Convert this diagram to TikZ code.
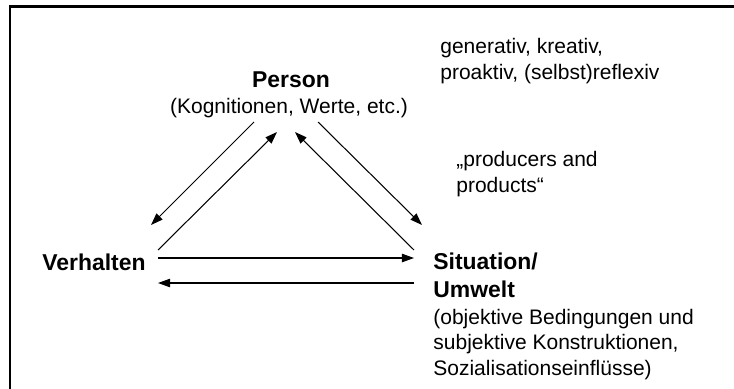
\documentclass[tikz,border=0pt]{standalone}
\usepackage{fontspec}
\setmainfont{Liberation Sans}
\usetikzlibrary{arrows.meta}
\begin{document}
\begin{tikzpicture}[x=0.5236pt,y=-0.5236pt,
  lbl/.style={inner sep=0pt, font=\fontsize{11}{13.1}\selectfont, align=left},
  lblc/.style={inner sep=0pt, font=\fontsize{11}{13.1}\selectfont},
  head/.style={inner sep=0pt, font=\fontsize{12}{14.3}\selectfont\bfseries, align=left},
  arr/.style={line width=0.55pt, -{Triangle[length=6.3pt,width=4.4pt]}},
  frameline/.style={line width=1.05pt, line join=miter}]
\useasboundingbox (0,0) rectangle (734,388);
\coordinate (fb) at (10,390);
\coordinate (fc) at (10,6.5);
\coordinate (fr) at (736,6.5);
\draw[frameline] (fb) -- (fc) -- (fr);

\node[head, anchor=base] (person) at (291,87) {Person};
\node[lblc, anchor=base] (persub) at (289,113) {(Kognitionen, Werte, etc.)};
\node[lbl, anchor=base west] (traits) at (440,79) {generativ, kreativ,\\proaktiv, (selbst)reflexiv};
\node[lbl, anchor=base west] (prod) at (456,192) {„producers and\\products“};
\node[head, anchor=base west] (verh) at (42,270) {Verhalten};
\node[head, anchor=base west] (sit) at (433,297) {Situation/\\Umwelt};
\node[lbl, anchor=base west] (sitsub) at (433,375) {(objektive Bedingungen und\\subjektive Konstruktionen,\\Sozialisationseinflüsse)};

\coordinate (a1s) at (254,122);
\coordinate (a1e) at (151,225);
\coordinate (a2s) at (158,250);
\coordinate (a2e) at (277,132);
\coordinate (a3s) at (414,250);
\coordinate (a3e) at (295,132);
\coordinate (a4s) at (318,122);
\coordinate (a4e) at (422,225);
\coordinate (h1s) at (158,258);
\coordinate (h1e) at (414,258);
\coordinate (h2s) at (414,283);
\coordinate (h2e) at (158,283);

\draw[arr] (a1s) -- (a1e);
\draw[arr] (a2s) -- (a2e);
\draw[arr] (a3s) -- (a3e);
\draw[arr] (a4s) -- (a4e);
\draw[arr] (h1s) -- (h1e);
\draw[arr] (h2s) -- (h2e);
\end{tikzpicture}
\end{document}
